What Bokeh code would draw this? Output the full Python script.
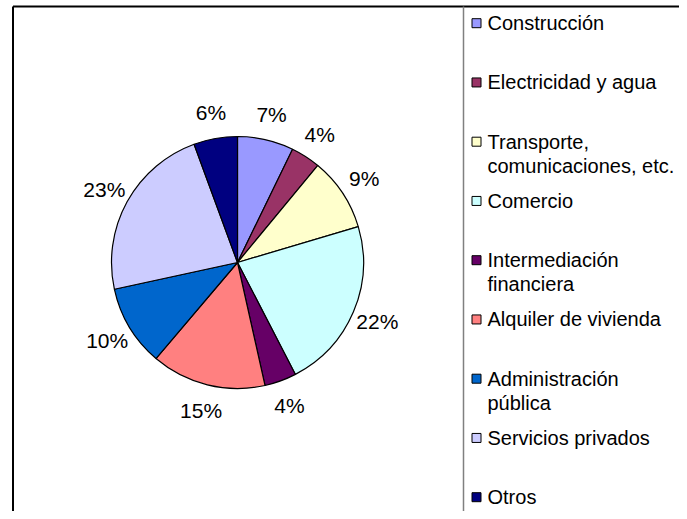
import numpy as np
from bokeh.plotting import figure
from bokeh.models import ColumnDataSource, Range1d
from bokeh.core.properties import value
from bokeh.embed import file_html
from bokeh.resources import INLINE

# ---- data ----
sectors = ["Construcción", "Electricidad y agua", "Transporte,\ncomunicaciones, etc.",
           "Comercio", "Intermediación\nfinanciera", "Alquiler de vivienda",
           "Administración\npública", "Servicios privados", "Otros"]
shares = [7.2, 3.8, 9.4, 22.0, 4.1, 14.7, 10.4, 22.8, 5.6]
colors = ["#9999FF", "#993366", "#FFFFCC", "#CCFFFF", "#660066",
          "#FF8080", "#0066CC", "#CCCCFF", "#000080"]

# ---- layout (picture pixels -> data units, 1:1, y up) ----
W, H = 679, 511
def px(X):
    return X
def py(Y):
    return H - Y

FONT = "Liberation Sans"
FS_LAB = "21px"
FS_LEG = "20px"

cx, cy, R = px(237), py(262), 126
LR = 152

vals = np.array(shares, dtype=float)
frac = vals / vals.sum()
cum_end = np.cumsum(frac)
cum_start = cum_end - frac
start = np.pi / 2 - cum_end * 2 * np.pi
end = np.pi / 2 - cum_start * 2 * np.pi
mid = (start + end) / 2

p = figure(width=W, height=H, output_backend="svg", toolbar_location=None,
           x_range=Range1d(0, W), y_range=Range1d(0, H),
           x_axis_type=None, y_axis_type=None, min_border=0,
           background_fill_color="white", border_fill_color="white")
p.outline_line_color = None
p.grid.visible = False

pie = ColumnDataSource(dict(start=start, end=end, color=colors))
p.wedge(x=cx, y=cy, radius=R, start_angle="start", end_angle="end",
        fill_color="color", line_color="black", line_width=1.2, source=pie)

lab = ColumnDataSource(dict(
    x=cx + LR * np.cos(mid), y=cy + LR * np.sin(mid),
    t=[f"{round(v):d}%" for v in vals]))
p.text(x="x", y="y", text="t", source=lab, text_font=value(FONT),
       text_font_size=FS_LAB, text_align="center", text_baseline="middle",
       text_color="black")

# frame: outer border (top/left) and divider
p.line(x=[px(12.5), W + 5], y=[py(6), py(6)], line_color="black", line_width=2)
p.line(x=[px(12.5), px(12.5)], y=[py(6), -5], line_color="black", line_width=2)
p.line(x=[px(463), px(463)], y=[py(6), -5], line_color="#808080", line_width=1.5)

# legend
row_y = [py(22.7 + i * 59.25) for i in range(len(sectors))]
p.rect(x=px(476), y=row_y, width=9, height=9, fill_color=colors,
       line_color="black", line_width=1)
tx, ty, tt = [], [], []
for i, name in enumerate(sectors):
    for j, line in enumerate(name.split("\n")):
        tx.append(px(487))
        ty.append(row_y[i] - j * 24)
        tt.append(line)
p.text(x=tx, y=ty, text=tt, text_font=value(FONT), text_font_size=FS_LEG,
       text_align="left", text_baseline="middle", text_color="black")

open("out.html", "w").write(file_html(p, INLINE))
